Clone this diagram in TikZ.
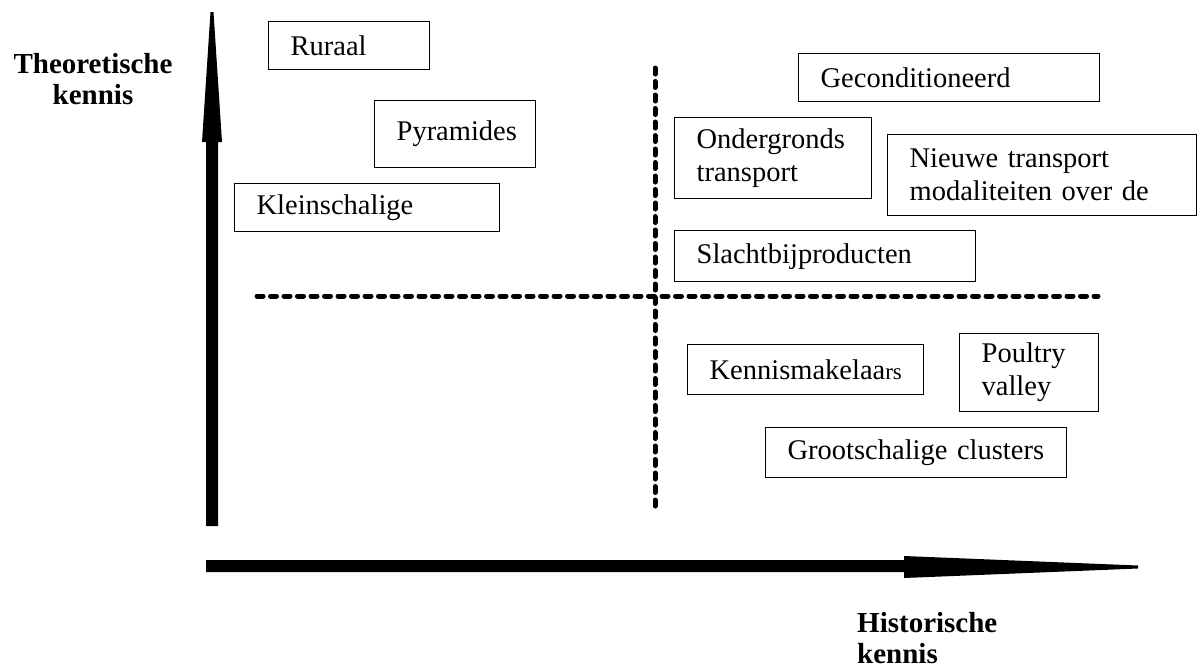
\documentclass[tikz,border=0pt]{standalone}
\usepackage{fontspec}
\setmainfont{Liberation Serif}
\begin{document}
\begin{tikzpicture}[x=1pt,y=-1pt,
  item/.style={draw, line width=1.3pt, anchor=north west, inner xsep=22pt, inner ysep=0pt,
    align=left, font=\fontsize{28.5}{33}\selectfont},
  axislabel/.style={font=\bfseries\fontsize{29}{31}\selectfont, inner sep=0pt},
  quadrant/.style={line width=5pt, dash pattern=on 6pt off 7.5pt, line cap=round},
  axisarrow/.style={fill=black, draw=none}]
\useasboundingbox (0,0) rectangle (1198,670);

% axes (tapered arrows)
\fill[axisarrow] (206,526) -- (206,142) -- (202,142) -- (210.5,12) -- (213.5,12)
  -- (222,142) -- (218,142) -- (218,526) -- cycle;
\fill[axisarrow] (206,560) -- (904,560) -- (904,556) -- (1138,565.5) -- (1138,568.5)
  -- (904,578) -- (904,572) -- (206,572) -- cycle;

% quadrant lines
\coordinate (qtop) at (655,68);
\coordinate (qbot) at (655,512);
\coordinate (qleft) at (257,296);
\coordinate (qright) at (1098,296);
\draw[quadrant] (qtop) -- (qbot);
\draw[quadrant] (qleft) -- (qright);

% boxes
\node[item, text width=117pt, minimum height=48pt] (ruraal) at (268,21) {Ruraal};
\node[item, text width=117pt, minimum height=67pt] (pyramides) at (374,100) {Pyramides};
\node[item, text width=221pt, minimum height=48pt] (klein) at (234,183) {Kleinschalige};
\node[item, text width=257pt, minimum height=48pt] (gecond) at (798,53) {Geconditioneerd};
\node[item, text width=153pt, minimum height=81pt] (onder) at (674,117) {Ondergronds\\transport};
\node[item, text width=265pt, minimum height=81pt] (nieuwe) at (887,134) {Nieuwe transport\\modaliteiten over de};
\node[item, text width=257pt, minimum height=51pt] (slacht) at (674,230) {Slachtbijproducten};
\node[item, text width=192pt, minimum height=50pt] (kennis) at (687,344) {Kennismakelaa{\fontsize{23}{26}\selectfont rs}};
\node[item, text width=95pt, minimum height=78pt] (poultry) at (959,333) {Poultry\\valley};
\node[item, text width=257pt, minimum height=50pt] (groot) at (765,427) {Grootschalige clusters};

% axis labels (base = last line)
\node[axislabel, align=center, anchor=base] (theo) at (93,104) {Theoretische\\kennis};
\node[axislabel, align=left, anchor=base west] (hist) at (857,663) {Historische\\kennis};
\end{tikzpicture}
\end{document}
